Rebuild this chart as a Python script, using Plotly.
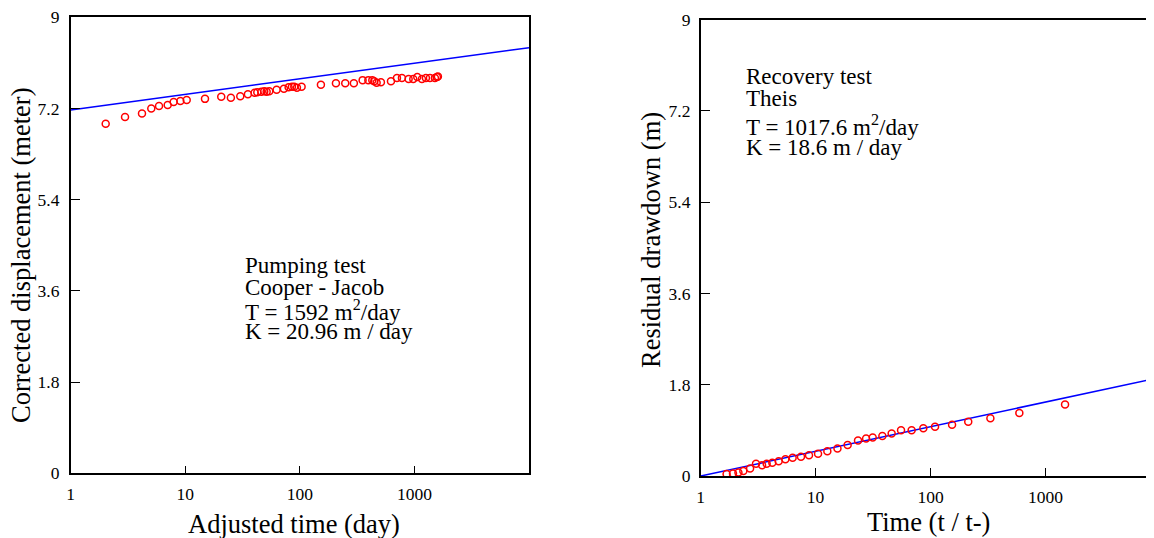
import plotly.graph_objects as go

# ---------------- data ----------------
# Pumping test (Cooper-Jacob)
pump_t = [2.02, 2.98, 4.19, 5.05, 5.90, 7.02, 7.92, 9.06, 10.29, 14.86, 20.6, 25.0, 30.2,
          35.2, 40.3, 42.5, 46.1, 48.9, 51.3, 54.1, 62.7, 72.6, 79.8, 85.3, 89.4, 94.3,
          103.6, 152.7, 206.5, 249, 296, 353, 396, 429, 446, 468, 510, 624, 704, 778,
          890, 977, 1059, 1163, 1260, 1366, 1509, 1571, 1603]
pump_s = [6.90, 7.03, 7.10, 7.20, 7.25, 7.27, 7.33, 7.35, 7.37, 7.39, 7.43, 7.41, 7.44,
          7.48, 7.51, 7.52, 7.53, 7.54, 7.53, 7.54, 7.57, 7.59, 7.62, 7.63, 7.63, 7.61,
          7.63, 7.67, 7.70, 7.70, 7.70, 7.76, 7.76, 7.76, 7.74, 7.71, 7.72, 7.74, 7.80, 7.80,
          7.78, 7.78, 7.82, 7.78, 7.80, 7.80, 7.80, 7.82, 7.83]
pump_fit_t = [1, 10000]
pump_fit_s = [7.17, 8.40]

# Recovery test (Theis)
rec_t = [1.68, 1.91, 2.13, 2.35, 2.69, 3.03, 3.42, 3.75, 4.20, 4.77, 5.46, 6.31, 7.46,
         8.76, 10.5, 12.65, 15.5, 19.0, 23.4, 27.5, 31.4, 38.1, 45.9, 55.4, 68.5, 86.6,
         109.5, 154, 213, 332, 593, 1482]
rec_s = [0.04, 0.05, 0.07, 0.10, 0.15, 0.24, 0.21, 0.24, 0.26, 0.29, 0.33, 0.36, 0.38,
         0.41, 0.44, 0.49, 0.54, 0.61, 0.70, 0.74, 0.76, 0.79, 0.84, 0.90, 0.90, 0.94,
         0.97, 1.01, 1.07, 1.14, 1.24, 1.41]
rec_fit_t = [1, 10000]
rec_fit_s = [0.0, 1.944]

x_tickvals = [1, 10, 100, 1000]
x_ticktext = ["1", "10", "100", "1000"]
y_tickvals = [0, 1.8, 3.6, 5.4, 7.2, 9]
y_ticktext = ["0", "1.8", "3.6", "5.4", "7.2", "9"]

pump_text = ["Pumping test", "Cooper - Jacob", "T = 1592 m<sup>2</sup>/day", "K = 20.96 m / day"]
rec_text = ["Recovery test", "Theis", "T = 1017.6 m<sup>2</sup>/day", "K = 18.6 m / day"]

# ---------------- figure ----------------
OFF = 8                      # default page body margin
W, H = 1154 - OFF, 538 - OFF
FONT = "Liberation Serif, Times New Roman, serif"

def px_x(p):
    return (p - OFF) / W

def px_y(p):
    return 1 - (p - OFF) / H

fig = go.Figure()

marker = dict(symbol="circle-open", size=7, color="#ff0000", line=dict(width=1.5, color="#ff0000"))
line = dict(color="#0000ff", width=1.5)

fig.add_trace(go.Scatter(x=pump_fit_t, y=pump_fit_s, mode="lines", line=line,
                         xaxis="x", yaxis="y", showlegend=False, hoverinfo="skip"))
fig.add_trace(go.Scatter(x=pump_t, y=pump_s, mode="markers", marker=marker,
                         xaxis="x", yaxis="y", showlegend=False))
fig.add_trace(go.Scatter(x=rec_fit_t, y=rec_fit_s, mode="lines", line=line,
                         xaxis="x2", yaxis="y2", showlegend=False, hoverinfo="skip"))
fig.add_trace(go.Scatter(x=rec_t, y=rec_s, mode="markers", marker=marker,
                         xaxis="x2", yaxis="y2", showlegend=False))

tickfont = dict(family=FONT, size=17.5, color="black")
common_x = dict(type="log", tickmode="array", tickvals=x_tickvals, ticktext=x_ticktext,
                ticks="inside", ticklen=8, tickwidth=1.2, tickcolor="black",
                showline=True, linecolor="black", linewidth=1.5, automargin=False,
                ticklabeloverflow="allow",
                showgrid=False, zeroline=False, tickfont=tickfont, ticklabelstandoff=4)
common_y = dict(range=[0, 9], tickmode="array", tickvals=y_tickvals, ticktext=y_ticktext,
                ticks="inside", ticklen=10, tickwidth=1.2, tickcolor="black",
                showline=True, linecolor="black", linewidth=1.5, automargin=False,
                ticklabeloverflow="allow",
                showgrid=False, zeroline=False, tickfont=tickfont)

fig.update_layout(
    template="none",
    width=W, height=H,
    margin=dict(l=0, r=0, t=0, b=0, autoexpand=False),
    paper_bgcolor="white", plot_bgcolor="white",
    showlegend=False,
    xaxis=dict(common_x, range=[0, 4], domain=[px_x(70.7), px_x(529)], mirror=True, anchor="y"),
    yaxis=dict(common_y, domain=[px_y(473.3), px_y(17.3)], mirror=True, anchor="x",
               ticklabelstandoff=6),
    xaxis2=dict(common_x, range=[0, 3.945], domain=[px_x(700.7), 1.0], mirror=True, anchor="y2"),
    yaxis2=dict(common_y, domain=[px_y(476), px_y(19.5)], mirror=False, anchor="x2",
                ticklabelstandoff=5),
)

title_font = dict(family=FONT, size=26.5, color="black")
ann = []
ann.append(dict(text="Adjusted time (day)", x=px_x(294), y=px_y(524), xref="paper", yref="paper",
                showarrow=False, font=title_font, xanchor="center", yanchor="middle"))
ann.append(dict(text="Time (t / t-)", x=px_x(928), y=px_y(522), xref="paper", yref="paper",
                showarrow=False, font=title_font, xanchor="center", yanchor="middle"))
ann.append(dict(text="Corrected displacement (meter)", x=px_x(21), y=px_y(255), xref="paper",
                yref="paper", showarrow=False, font=title_font, textangle=-90,
                xanchor="center", yanchor="middle"))
ann.append(dict(text="Residual drawdown (m)", x=px_x(651), y=px_y(240), xref="paper",
                yref="paper", showarrow=False, font=title_font, textangle=-90,
                xanchor="center", yanchor="middle"))

note_font = dict(family=FONT, size=23, color="black")
for txt, yy in zip(pump_text, [265, 287.5, 310, 331.5]):
    ann.append(dict(text=txt, x=px_x(243), y=px_y(yy), xref="paper", yref="paper",
                    showarrow=False, font=note_font, xanchor="left", yanchor="middle"))
for txt, yy in zip(rec_text, [77, 99, 126, 148]):
    ann.append(dict(text=txt, x=px_x(744), y=px_y(yy), xref="paper", yref="paper",
                    showarrow=False, font=note_font, xanchor="left", yanchor="middle"))

fig.update_layout(annotations=ann)
fig.write_html("out.html")
